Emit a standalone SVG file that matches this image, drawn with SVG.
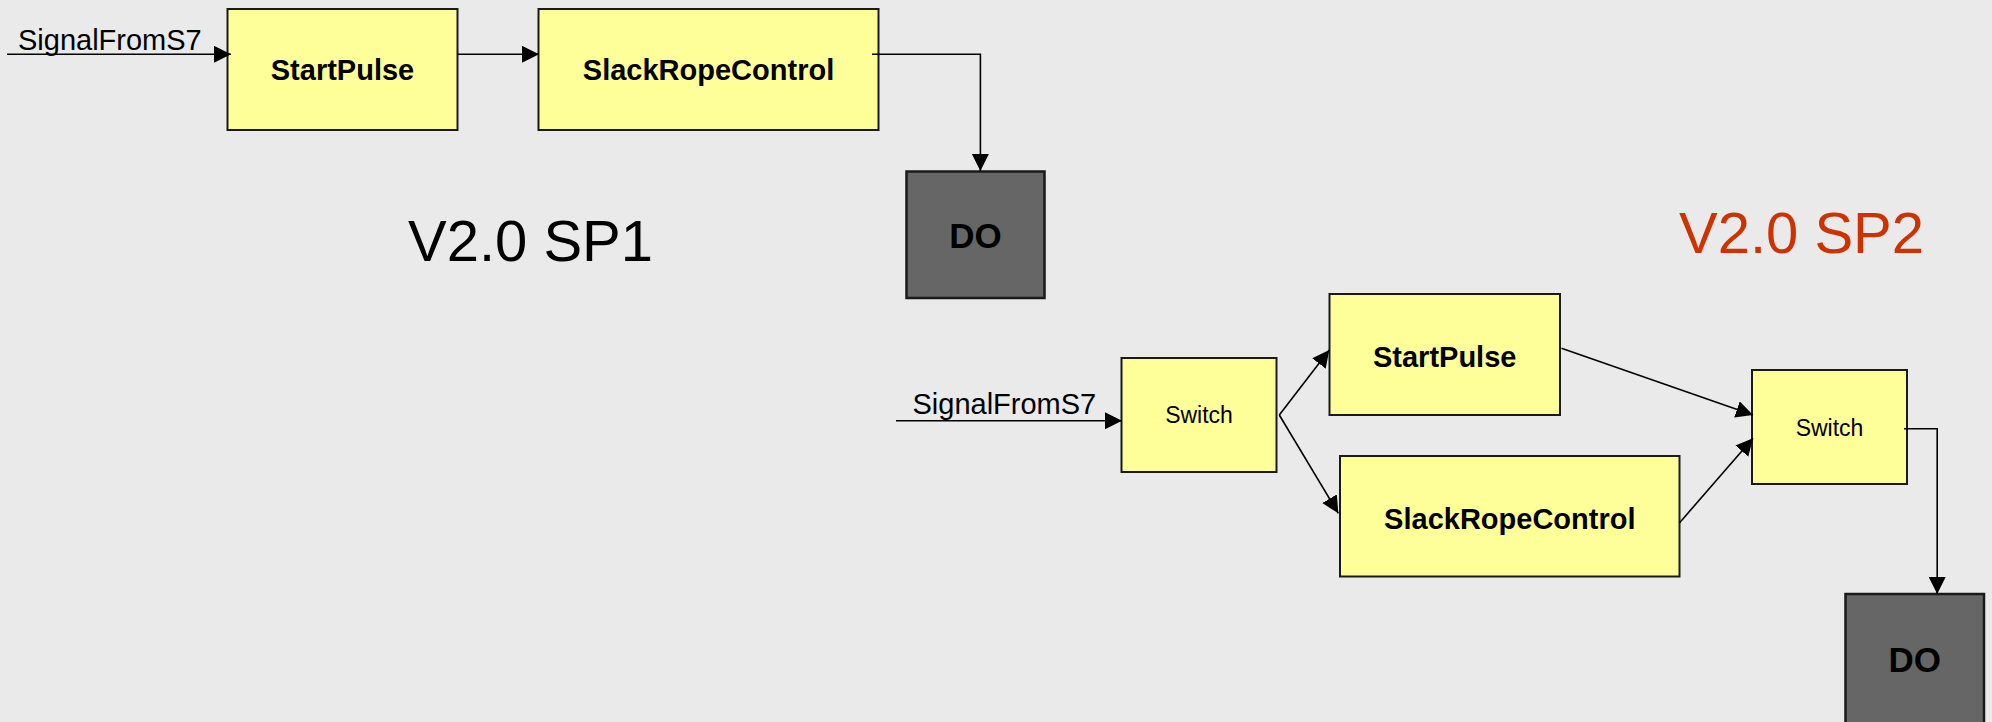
<svg xmlns="http://www.w3.org/2000/svg" width="1992" height="722" viewBox="0 0 1992 722">
  <style>
    .box { fill: #FFFF99; stroke: #1a1a1a; stroke-width: 2; }
    .out { fill: #666666; stroke: #1a1a1a; stroke-width: 2.5; }
    .lbl { font-family: "Liberation Sans", Arial, sans-serif; fill: #000; }
    .b { font-weight: bold; font-size: 29px; text-anchor: middle; }
    .do { font-weight: bold; font-size: 35px; text-anchor: middle; }
    .sw { font-size: 23px; text-anchor: middle; }
    .sig { font-size: 29px; }
    .ver { font-family: "Liberation Sans", Arial, sans-serif; font-size: 58px; }
    .wire { fill: none; stroke: #000; stroke-width: 1.6; marker-end: url(#arrow); }
  </style>
  <defs>
    <marker id="arrow" markerUnits="userSpaceOnUse" markerWidth="18" markerHeight="18" refX="17" refY="8.5" orient="auto">
      <path d="M0,0 L17,8.5 L0,17 Z" fill="#000"/>
    </marker>
  </defs>

  <rect width="1992" height="722" fill="#EAEAEA"/>

  <!-- version headings -->
  <text class="ver" x="408" y="261" fill="#000">V2.0 SP1</text>
  <text class="ver" x="1679" y="253" fill="#CC3300">V2.0 SP2</text>

  <!-- SP1 chain -->
  <g id="sp1-startpulse">
    <rect class="box" x="227.5" y="9" width="230" height="121"/>
    <text class="lbl b" x="342.5" y="80">StartPulse</text>
  </g>
  <g id="sp1-slackropecontrol">
    <rect class="box" x="538.5" y="9" width="340" height="121"/>
    <text class="lbl b" x="708.5" y="80">SlackRopeControl</text>
  </g>
  <g id="sp1-do">
    <rect class="out" x="906.5" y="171.5" width="138" height="126.5"/>
    <text class="lbl do" x="975.5" y="248">DO</text>
  </g>

  <!-- SP2 chain -->
  <g id="sp2-switch-in">
    <rect class="box" x="1121.5" y="358" width="155" height="114"/>
    <text class="lbl sw" x="1199" y="423">Switch</text>
  </g>
  <g id="sp2-startpulse">
    <rect class="box" x="1329.5" y="294" width="230.5" height="121"/>
    <text class="lbl b" x="1444.7" y="367">StartPulse</text>
  </g>
  <g id="sp2-slackropecontrol">
    <rect class="box" x="1340" y="456" width="339.5" height="120.5"/>
    <text class="lbl b" x="1509.8" y="528.5">SlackRopeControl</text>
  </g>
  <g id="sp2-switch-out">
    <rect class="box" x="1752" y="370" width="155" height="114"/>
    <text class="lbl sw" x="1829.5" y="436">Switch</text>
  </g>
  <g id="sp2-do">
    <rect class="out" x="1845.5" y="594" width="138.5" height="135"/>
    <text class="lbl do" x="1914.7" y="672">DO</text>
  </g>

  <!-- input labels -->
  <text class="lbl sig" x="18" y="50">SignalFromS7</text>
  <text class="lbl sig" x="912.5" y="414">SignalFromS7</text>

  <!-- connectors -->
  <g id="connectors">
    <path class="wire" d="M7,54.3 L231,54.3"/>
    <path class="wire" d="M457.5,54.3 L539,54.3"/>
    <path class="wire" d="M872,54.3 L980.4,54.3 L980.4,171"/>

    <path class="wire" d="M896,420.7 L1122,420.7"/>
    <path class="wire" d="M1279.3,415 L1329.3,350"/>
    <path class="wire" d="M1279.3,415 L1338.3,513.3"/>
    <path class="wire" d="M1561.5,348.3 L1753,415"/>
    <path class="wire" d="M1679.6,522.7 L1753,438.3"/>
    <path class="wire" d="M1904,428.7 L1937.2,428.7 L1937.2,594"/>
  </g>
</svg>
